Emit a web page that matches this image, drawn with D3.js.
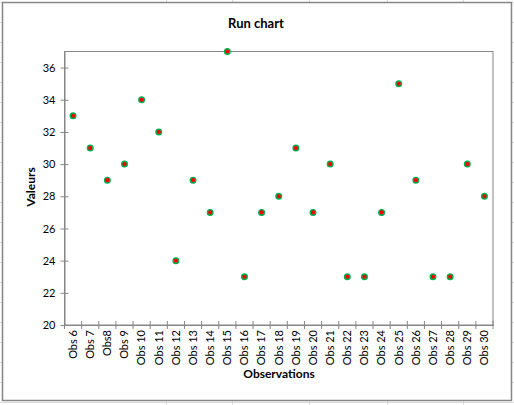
<!DOCTYPE html>
<html>
<head>
<meta charset="utf-8">
<script src="https://cdn.jsdelivr.net/npm/d3@7"></script>
<style>
  body { margin: 0; background: #fff; }
  svg { display: block; font-family: Lato, "Liberation Sans", sans-serif; }
</style>
</head>
<body>
<div id="graph"></div>
<script>
"use strict";

var categories = ["Obs 6", "Obs 7", "Obs8", "Obs 9", "Obs 10", "Obs 11", "Obs 12", "Obs 13",
    "Obs 14", "Obs 15", "Obs 16", "Obs 17", "Obs 18", "Obs 19", "Obs 20", "Obs 21", "Obs 22",
    "Obs 23", "Obs 24", "Obs 25", "Obs 26", "Obs 27", "Obs 28", "Obs 29", "Obs 30"];
var values = [33, 31, 29, 30, 34, 32, 24, 29, 27, 37, 23, 27, 28, 31, 27, 30, 23, 23, 27, 35, 29, 23, 23, 30, 28];
var yTicks = [20, 22, 24, 26, 28, 30, 32, 34, 36];

var width = 514, height = 405;
var margin = {top: 51.5, left: 64.5, right: 21, bottom: 80};

var svg = d3.select("#graph").append("svg")
    .attr("width", width)
    .attr("height", height);

// spreadsheet grid behind the chart
var sheetRows = d3.range(2, height, 20);
var sheetCols = [166, 232, 309, 387, 463];
svg.append("g").selectAll("line").data(sheetRows).enter().append("line")
    .attr("x1", 0).attr("x2", width)
    .attr("y1", function (d) { return d + 0.5; })
    .attr("y2", function (d) { return d + 0.5; })
    .attr("stroke", "#dadcdd");
svg.append("g").selectAll("line").data(sheetCols).enter().append("line")
    .attr("y1", 0).attr("y2", height)
    .attr("x1", function (d) { return d + 0.5; })
    .attr("x2", function (d) { return d + 0.5; })
    .attr("stroke", "#dadcdd");

// chart area
svg.append("rect")
    .attr("x", 2.5).attr("y", 2.5)
    .attr("width", 509).attr("height", 398)
    .attr("fill", "#fff")
    .attr("stroke", "#868686")
    .attr("stroke-width", 1.5);

var x = d3.scaleBand()
    .domain(categories)
    .range([margin.left, width - margin.right]);

var y = d3.scaleLinear()
    .domain([20, 37])
    .range([325, margin.top]);

// plot area border
svg.append("rect")
    .attr("x", margin.left).attr("y", margin.top)
    .attr("width", width - margin.right - margin.left)
    .attr("height", 325 - margin.top)
    .attr("fill", "none")
    .attr("stroke", "#868686");

var yAxis = svg.append("g")
    .attr("transform", "translate(" + margin.left + ",0)")
    .call(d3.axisLeft(y).tickValues(yTicks).tickSize(4).tickSizeOuter(0).tickPadding(5));
yAxis.selectAll(".tick line").attr("x2", 4).attr("x1", -4);

var xAxis = svg.append("g")
    .attr("transform", "translate(0,325)")
    .call(d3.axisBottom(x).tickSize(0).tickSizeOuter(0).tickPadding(0));
xAxis.selectAll(".tick line").remove();
xAxis.selectAll(".tick text")
    .attr("transform", "rotate(-90)")
    .attr("x", -5)
    .attr("y", 0)
    .attr("dy", "0.35em")
    .style("text-anchor", "end");

// category boundary ticks
var bounds = categories.map(function (d) { return x(d); }).concat([x.range()[1]]);
svg.append("g").selectAll("line").data(bounds).enter().append("line")
    .attr("x1", function (d) { return d; })
    .attr("x2", function (d) { return d; })
    .attr("y1", 321).attr("y2", 329)
    .attr("stroke", "#868686");

svg.selectAll(".domain").attr("stroke", "#868686");
svg.selectAll(".tick line").attr("stroke", "#868686");
svg.selectAll(".tick text").attr("fill", "#000").style("font-size", "11px")
    .style("font-family", "Lato, 'Liberation Sans', sans-serif");

// points
svg.append("g").selectAll("circle")
    .data(values)
    .enter().append("circle")
    .attr("cx", function (d, i) { return x(categories[i]) + x.bandwidth() / 2; })
    .attr("cy", function (d) { return y(d); })
    .attr("r", 2.8)
    .attr("fill", "#ff0000")
    .attr("stroke", "#00b050")
    .attr("stroke-width", 1.4);

// titles
svg.append("text")
    .attr("x", 256).attr("y", 28)
    .attr("text-anchor", "middle")
    .style("font-size", "13px").style("font-weight", "bold")
    .text("Run chart");

svg.append("text")
    .attr("x", 279).attr("y", 378)
    .attr("text-anchor", "middle")
    .style("font-size", "12px").style("font-weight", "bold")
    .text("Observations");

svg.append("text")
    .attr("transform", "translate(35,187) rotate(-90)")
    .attr("text-anchor", "middle")
    .style("font-size", "12px").style("font-weight", "bold")
    .text("Valeurs");
</script>
</body>
</html>
